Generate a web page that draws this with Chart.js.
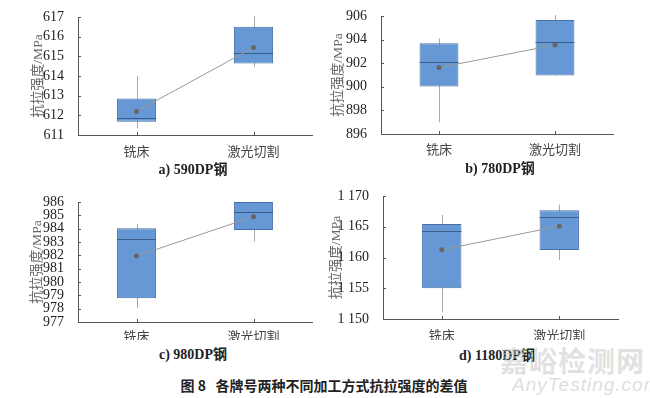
<!DOCTYPE html>
<html>
<head>
<meta charset="utf-8">
<script src="https://cdn.jsdelivr.net/npm/chart.js@4.4.1/dist/chart.umd.min.js"></script>
<style>
  body { margin: 0; background: #fff; width: 650px; height: 398px; position: relative; overflow: hidden; }
  canvas { position: absolute; }
  .sub { position: absolute; font: bold 14px "Liberation Serif", "Noto Sans CJK SC"; color: #222; transform: translate(-50%, -50%); white-space: nowrap; }
  .cap { position: absolute; left: 324px; top: 385px; font: bold 14px "Noto Sans CJK SC"; color: #222; transform: translate(-50%, -50%); white-space: nowrap; }
  .wm1 { position: absolute; left: 500px; top: 340px; font: bold 28px "Noto Sans CJK SC"; color: rgba(200,200,200,0.55); letter-spacing: 1px; }
  .wm2 { position: absolute; left: 512px; top: 374px; font: italic 19px "Liberation Sans"; color: rgba(200,200,200,0.6); letter-spacing: 1px; }
</style>
</head>
<body>
<canvas id="pa" width="325" height="160" style="left:0;top:0"></canvas>
<canvas id="pb" width="325" height="160" style="left:325px;top:0"></canvas>
<canvas id="pc" width="325" height="160" style="left:0;top:180px"></canvas>
<canvas id="pd" width="325" height="160" style="left:325px;top:180px"></canvas>
<div class="sub" style="left:193px;top:168px">a) 590DP钢</div>
<div class="sub" style="left:500px;top:167px">b) 780DP钢</div>
<div class="sub" style="left:193px;top:353px">c) 980DP钢</div>
<div class="sub" style="left:497px;top:354px">d) 1180DP钢</div>
<div class="wm1">嘉峪检测网</div>
<div class="wm2">AnyTesting.com</div>
<div class="cap">图 8&nbsp;&nbsp;&nbsp;各牌号两种不同加工方式抗拉强度的差值</div>
<script>
const categories = ['铣床', '激光切割'];

// a) 590DP钢
const aTicks = [611, 612, 613, 614, 615, 616, 617];
const aMin = [611.35, 614.45];
const aQ1 = [611.68, 614.63];
const aMed = [611.84, 615.15];
const aQ3 = [612.86, 616.5];
const aMax = [614.0, 617.05];
const aMean = [612.2, 615.45];

// b) 780DP钢
const bTicks = [896, 898, 900, 902, 904, 906];
const bMin = [897.0, 900.96];
const bQ1 = [900.03, 900.96];
const bMed = [902.08, 903.77];
const bQ3 = [903.69, 905.66];
const bMax = [904.1, 906.08];
const bMean = [901.63, 903.55];

// c) 980DP钢
const cTicks = [977, 978, 979, 980, 981, 982, 983, 984, 985, 986];
const cMin = [978.05, 983.03];
const cQ1 = [978.78, 983.9];
const cMed = [983.2, 985.24];
const cQ3 = [984.04, 986.0];
const cMax = [984.34, 986.0];
const cMean = [981.95, 984.9];

// d) 1180DP钢
const dTicks = [1150, 1155, 1160, 1165, 1170];
const dMin = [1151.1, 1159.6];
const dQ1 = [1155.0, 1161.2];
const dMed = [1164.3, 1166.6];
const dQ3 = [1165.45, 1167.7];
const dMax = [1166.9, 1168.6];
const dMean = [1161.25, 1165.1];

const boxFill = '#6598d4';
const boxEdge = '#4870a6';

// 千位用空格分隔
function fmt(v) {
    return String(v).replace(/\B(?=(\d{3})+(?!\d))/g, ' ');
}

// 须线、中位线和朝内的刻度
function boxParts(p) {
    return {
        id: 'boxParts',
        beforeDatasetsDraw(chart) {
            const ctx = chart.ctx;
            const y = chart.scales.y;
            const bars = chart.getDatasetMeta(0).data;
            ctx.save();
            ctx.strokeStyle = '#a8a8a8';
            ctx.lineWidth = 1;
            bars.forEach((bar, i) => {
                const x = Math.round(bar.x) + 0.5;
                ctx.beginPath();
                ctx.moveTo(x, y.getPixelForValue(p.max[i]));
                ctx.lineTo(x, y.getPixelForValue(p.min[i]));
                ctx.stroke();
            });
            ctx.restore();
        },
        afterDatasetDraw(chart, args) {
            if (args.index !== 0) return;
            const ctx = chart.ctx;
            const y = chart.scales.y;
            ctx.save();
            ctx.strokeStyle = '#3c5d88';
            ctx.lineWidth = 1;
            args.meta.data.forEach((bar, i) => {
                const py = Math.round(y.getPixelForValue(p.med[i])) + 0.5;
                ctx.beginPath();
                ctx.moveTo(bar.x - bar.width / 2, py);
                ctx.lineTo(bar.x + bar.width / 2, py);
                ctx.stroke();
            });
            ctx.restore();
        },
        afterDraw(chart) {
            const ctx = chart.ctx;
            const area = chart.chartArea;
            const x = chart.scales.x;
            const y = chart.scales.y;
            ctx.save();
            ctx.strokeStyle = '#555';
            ctx.lineWidth = 1;
            ctx.beginPath();
            y.ticks.forEach(t => {
                const py = Math.round(y.getPixelForValue(t.value)) + 0.5;
                ctx.moveTo(area.left, py);
                ctx.lineTo(area.left + 3, py);
            });
            categories.forEach((c, i) => {
                const px = Math.round(x.getPixelForValue(i)) + 0.5;
                ctx.moveTo(px, area.bottom);
                ctx.lineTo(px, area.bottom - 3);
            });
            ctx.stroke();
            ctx.restore();
        }
    };
}

function drawPanel(id, p) {
    new Chart(document.getElementById(id), {
        type: 'bar',
        data: {
            labels: categories,
            datasets: [{
                type: 'bar',
                data: p.q1.map((v, i) => [v, p.q3[i]]),
                backgroundColor: boxFill,
                borderColor: boxEdge,
                borderWidth: 1,
                borderSkipped: false,
                barPercentage: 0.335,
                categoryPercentage: 1,
                order: 2
            }, {
                type: 'line',
                data: p.mean,
                borderColor: '#999',
                borderWidth: 1,
                pointRadius: 2.5,
                pointBackgroundColor: '#666',
                pointBorderWidth: 0,
                order: 1
            }]
        },
        options: {
            responsive: false,
            animation: false,
            layout: { padding: { left: 0, top: p.top, right: p.right, bottom: 0 } },
            plugins: { legend: { display: false }, tooltip: { enabled: false } },
            scales: {
                x: {
                    grid: { display: false },
                    border: { display: true, color: '#555', width: 1 },
                    ticks: {
                        color: '#444',
                        padding: p.xPad,
                        font: { family: 'Noto Sans CJK SC', size: 13 }
                    },
                    afterFit(s) { s.height = p.xh; }
                },
                y: {
                    min: p.ticks[0],
                    max: p.ticks[p.ticks.length - 1],
                    afterBuildTicks(s) { s.ticks = p.ticks.map(v => ({ value: v })); },
                    grid: { display: false },
                    border: { display: true, color: '#555', width: 1 },
                    ticks: {
                        color: '#222',
                        padding: 6,
                        autoSkip: false,
                        font: { family: 'Liberation Serif', size: 14 },
                        callback: v => fmt(v)
                    },
                    title: {
                        display: true,
                        text: '抗拉强度/MPa',
                        color: '#666',
                        font: { family: '"Liberation Serif", "Noto Sans CJK SC"', size: 13.5 },
                        padding: { top: p.titlePad, bottom: 0 }
                    },
                    afterFit(s) { s.width = p.left; }
                }
            }
        },
        plugins: [boxParts(p)]
    });
}

drawPanel('pa', { ticks: aTicks, min: aMin, q1: aQ1, med: aMed, q3: aQ3, max: aMax, mean: aMean,
    left: 78, right: 13, top: 17, xh: 25, xPad: 0, titlePad: 30 });
drawPanel('pb', { ticks: bTicks, min: bMin, q1: bQ1, med: bMed, q3: bQ3, max: bMax, mean: bMean,
    left: 56, right: 37, top: 16, xh: 26, xPad: -1, titlePad: 5 });
drawPanel('pc', { ticks: cTicks, min: cMin, q1: cQ1, med: cMed, q3: cQ3, max: cMax, mean: cMean,
    left: 78, right: 13, top: 22, xh: 18, xPad: -2, titlePad: 29 });
drawPanel('pd', { ticks: dTicks, min: dMin, q1: dQ1, med: dMed, q3: dQ3, max: dMax, mean: dMean,
    left: 58, right: 32, top: 16, xh: 21, xPad: 0, titlePad: 3 });
</script>
</body>
</html>
